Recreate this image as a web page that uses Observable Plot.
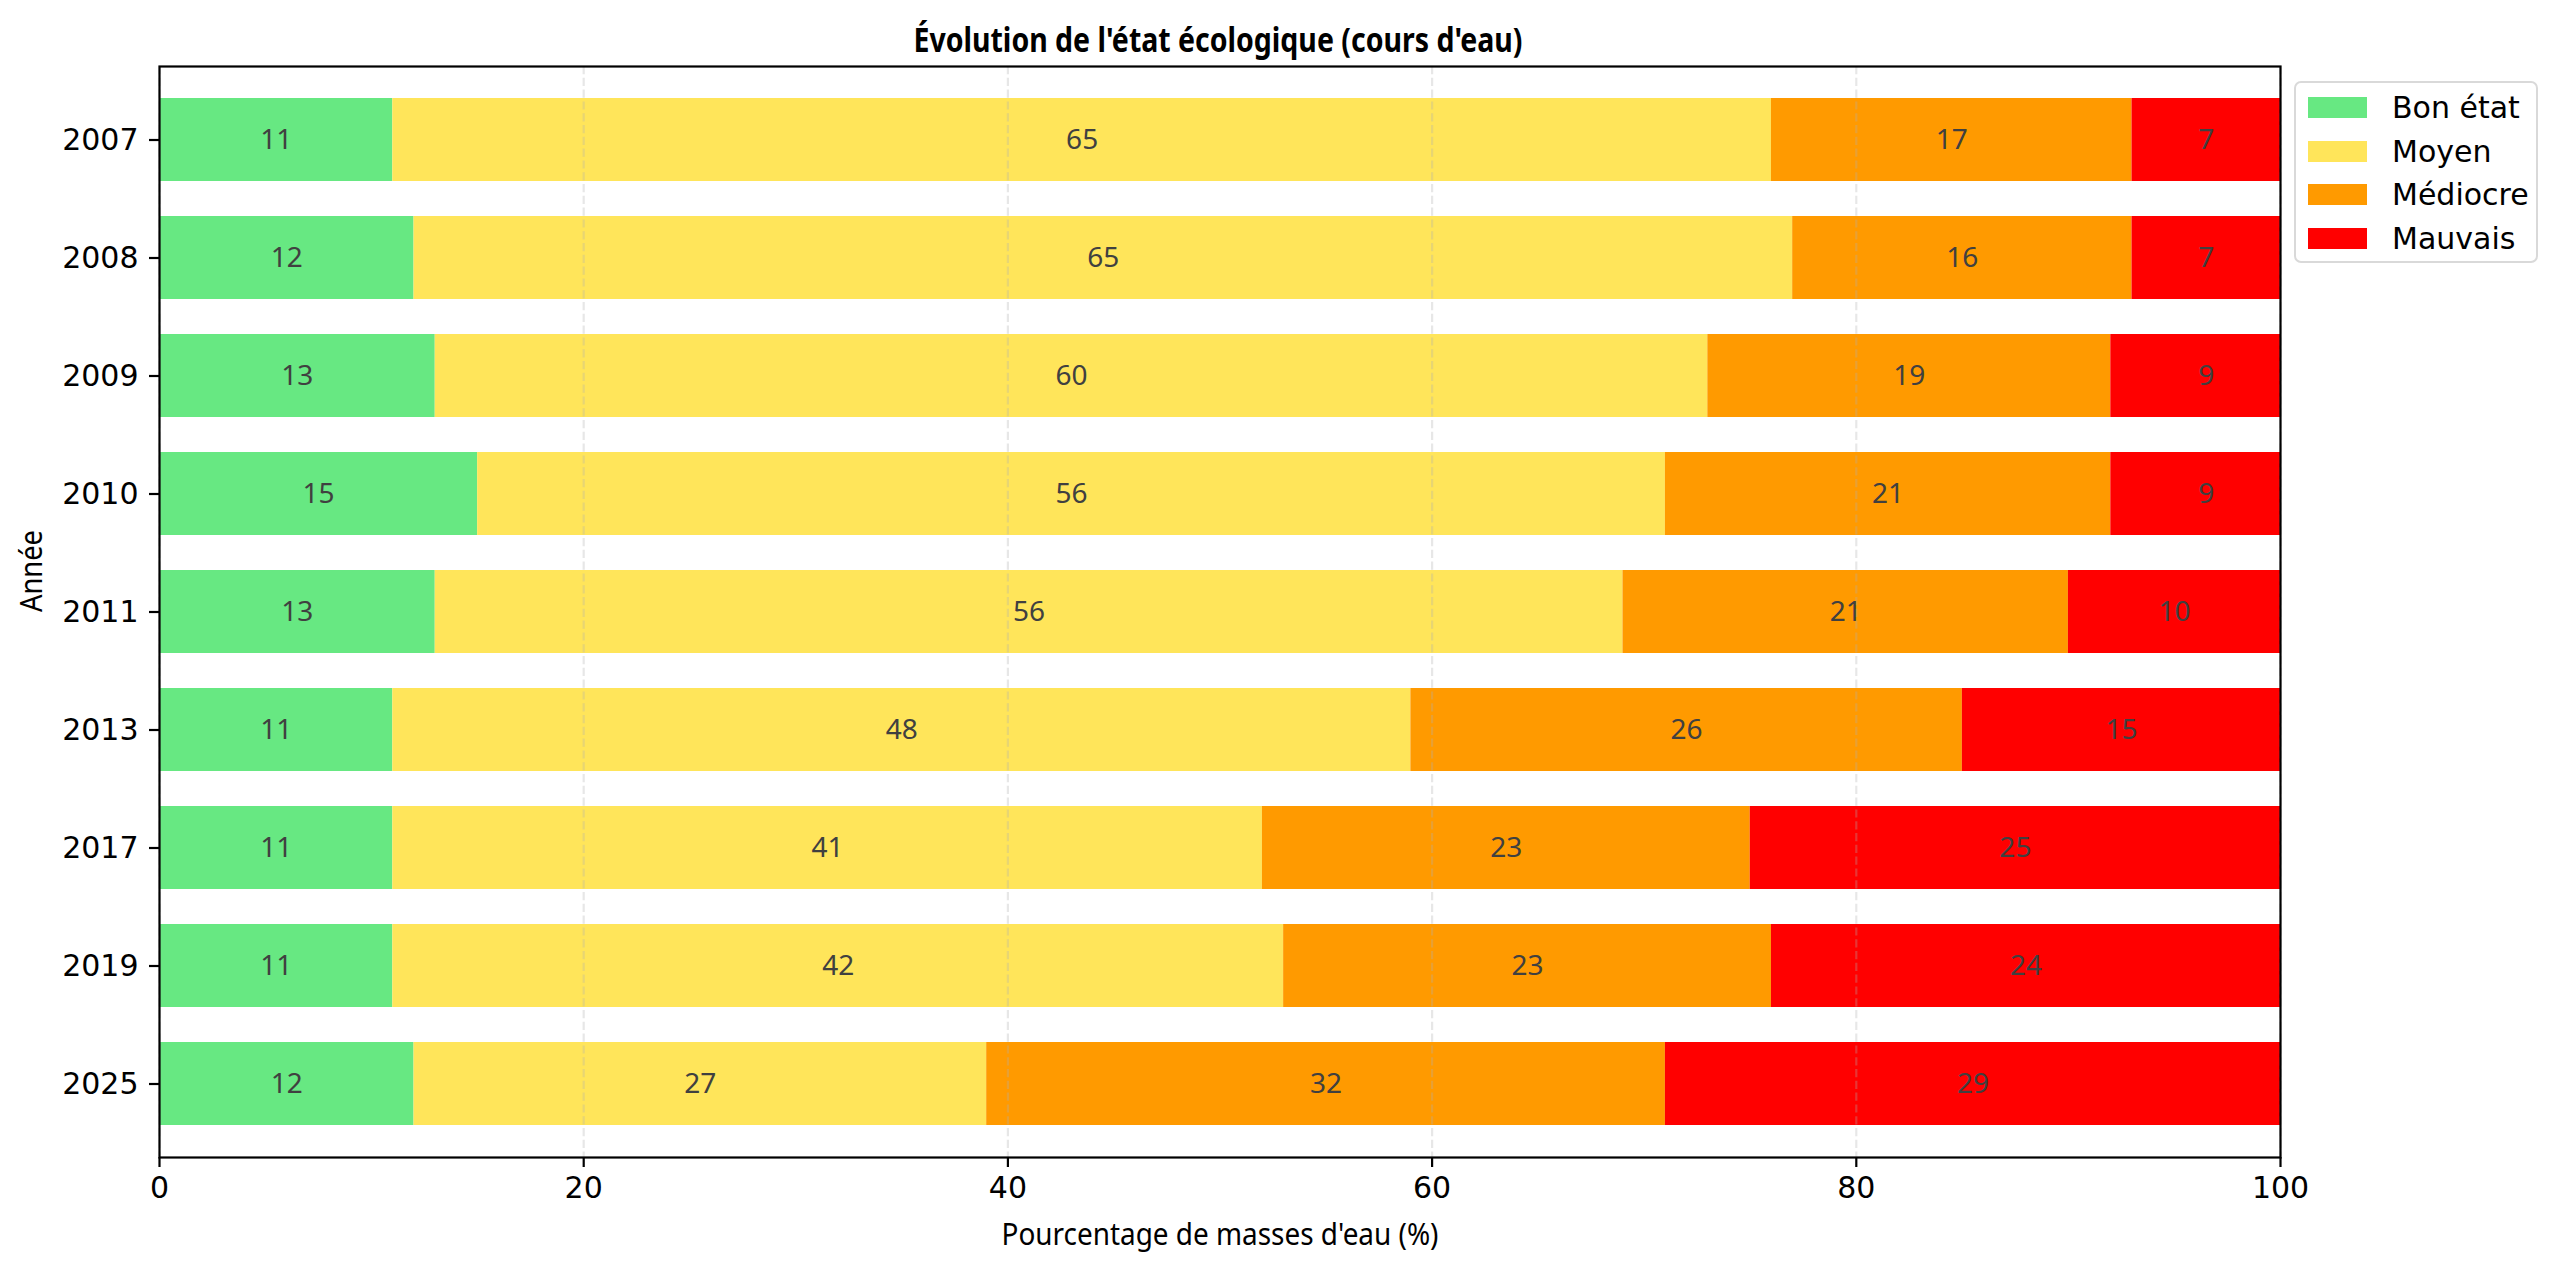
<!DOCTYPE html>
<html>
<head>
<meta charset="utf-8">
<script src="https://cdn.jsdelivr.net/npm/d3@7"></script>
<script src="https://cdn.jsdelivr.net/npm/@observablehq/plot@0.6"></script>
<style>
  body { margin: 0; background: #fff; }
  #wrap { position: relative; width: 2560px; height: 1268px; background: #fff; overflow: hidden; }
  #title { position: absolute; left: 1218px; top: 39px; white-space: nowrap;
           font-family: "Noto Sans", "Open Sans", sans-serif; font-weight: 700; font-size: 34px;
           line-height: 1; color: #000; }
  #title span { display: inline-block; transform-origin: center center; }
  #legend { position: absolute; left: 2294px; top: 81px; width: 240px; height: 178px;
            border: 2px solid #d9d9d9; border-radius: 7px; background: #fff;
            font-family: "DejaVu Sans", sans-serif; font-size: 30px; color: #000; }
  .lrow { position: absolute; left: 0; height: 30px; width: 100%; }
  .sw { position: absolute; left: 12px; top: 4px; width: 59px; height: 21px; }
  .lt { position: absolute; left: 96px; top: -3px; line-height: 36px; white-space: nowrap; }
</style>
</head>
<body>
<div id="wrap">
  <div id="chart"></div>
  <div id="title"><span id="tspan"></span></div>
  <div id="legend"></div>
</div>
<script>
const titleText = "Évolution de l'état écologique (cours d'eau)";
const xLabel = "Pourcentage de masses d'eau (%)";
const yLabel = "Année";
const years = ["2007", "2008", "2009", "2010", "2011", "2013", "2017", "2019", "2025"];
const categories = ["Bon état", "Moyen", "Médiocre", "Mauvais"];
const colors = ["#67e882", "#ffe55a", "#ff9a00", "#ff0000"];
const bonEtat  = [11, 12, 13, 15, 13, 11, 11, 11, 12];
const moyen    = [65, 65, 60, 56, 56, 48, 41, 42, 27];
const mediocre = [17, 16, 19, 21, 21, 26, 23, 23, 32];
const mauvais  = [7, 7, 9, 9, 10, 15, 25, 24, 29];
const xTicks = [0, 20, 40, 60, 80, 100];

const series = [bonEtat, moyen, mediocre, mauvais];
const rows = [];
categories.forEach((cat, ci) => {
  years.forEach((year, yi) => rows.push({year, cat, value: series[ci][yi]}));
});

const chart = Plot.plot({
  width: 2560,
  height: 1268,
  marginLeft: 159,
  marginRight: 280,
  marginTop: 66,
  marginBottom: 111,
  x: {domain: [0, 100]},
  y: {type: "band", domain: years, paddingInner: 0.3, paddingOuter: 0.25},
  color: {domain: categories, range: colors},
  style: {fontFamily: "DejaVu Sans", fontSize: "30px", color: "#000", background: "#fff"},
  marks: [
    Plot.barX(rows, {x: "value", y: "year", fill: "cat", clip: true}),
    Plot.gridX(xTicks, {stroke: "#b0b0b0", strokeOpacity: 0.3, strokeWidth: 2.2, strokeDasharray: "8.2,3.6"}),
    Plot.text(rows, Plot.stackX({x: "value", y: "year", z: "cat", text: d => String(d.value),
      fill: "#404040", fontFamily: "Noto Sans", fontSize: 28})),
    Plot.frame({stroke: "#000", strokeWidth: 2.2}),
    Plot.axisX(xTicks, {tickSize: 10, tickPadding: 9, strokeWidth: 2.2, fontSize: 30,
      fontFamily: "DejaVu Sans", fill: "#000", label: null, tickFormat: d => String(d)}),
    Plot.axisY({tickSize: 10, tickPadding: 11, strokeWidth: 2.2, fontSize: 30,
      fontFamily: "DejaVu Sans", fill: "#000", label: null}),
    Plot.text([xLabel], {frameAnchor: "bottom", dy: 87, text: d => d, fontFamily: "Noto Sans",
      fontSize: 31, fill: "#000", className: "xlab"}),
    Plot.text([yLabel], {frameAnchor: "left", dx: -127, rotate: -90, text: d => d, fontFamily: "Noto Sans",
      fontSize: 30, fill: "#000", className: "ylab"})
  ]
});
document.getElementById("chart").appendChild(chart);
d3.select(chart).selectAll(".xlab text").attr("textLength", 437).attr("lengthAdjust", "spacingAndGlyphs");
d3.select(chart).selectAll(".ylab text").attr("textLength", 82).attr("lengthAdjust", "spacingAndGlyphs");

// title
const tspan = document.getElementById("tspan");
tspan.textContent = titleText;
const w = tspan.getBoundingClientRect().width;
const h = tspan.getBoundingClientRect().height;
tspan.style.transform = `translate(-50%, -50%) scaleX(${609 / w})`;

// legend
const legend = d3.select("#legend");
categories.forEach((cat, i) => {
  const r = legend.append("div").attr("class", "lrow").style("top", (10 + i * 43.5) + "px");
  r.append("div").attr("class", "sw").style("background", colors[i]);
  r.append("div").attr("class", "lt").text(cat);
});
</script>
</body>
</html>
